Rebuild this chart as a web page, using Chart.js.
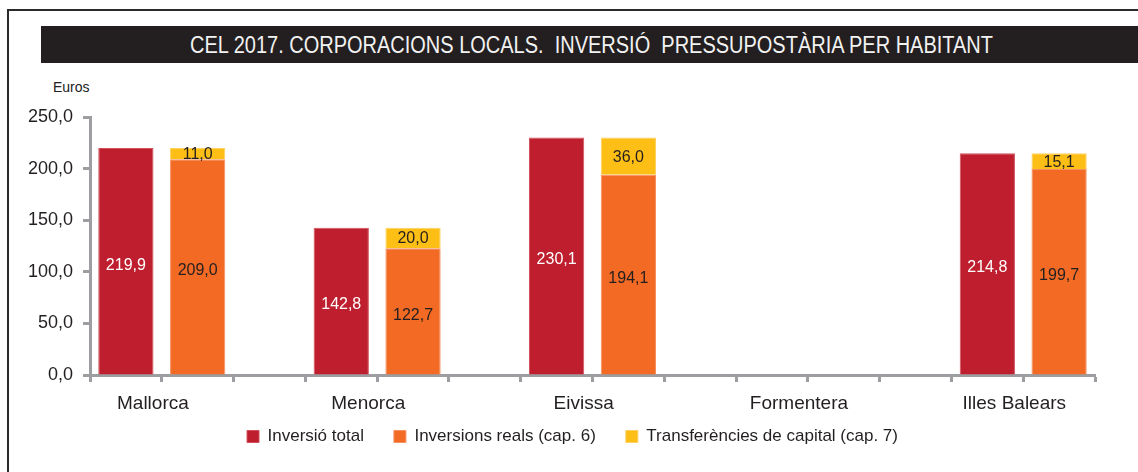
<!DOCTYPE html>
<html>
<head>
<meta charset="utf-8">
<script src="https://cdn.jsdelivr.net/npm/chart.js@4.4.1/dist/chart.umd.min.js"></script>
<style>
  html, body { margin: 0; padding: 0; background: #fff; overflow: hidden; }
  body { width: 1138px; height: 472px; position: relative; font-family: "Liberation Sans", Arial, sans-serif; }
  #frame { position: absolute; left: 7px; top: 9px; width: 1160px; height: 490px; border: 2px solid #2b2b2b; box-sizing: border-box; }
  #title { position: absolute; left: 41px; top: 26px; width: 1110px; height: 37px; background: #231f20; color: #f2f2f2;
           font-size: 23px; line-height: 37px; white-space: pre; }
  #title span { position: absolute; left: 149px; top: 1px; transform-origin: 0 50%; }
  #unit { position: absolute; left: 53px; top: 79px; font-size: 14px; color: #222; }
  #wrap { position: absolute; left: 0; top: 0; width: 1138px; height: 472px; }
</style>
</head>
<body>
<div id="frame"></div>
<div id="title"><span id="titleText">CEL 2017. CORPORACIONS LOCALS.  INVERSIÓ  PRESSUPOSTÀRIA PER HABITANT</span></div>
<div id="unit">Euros</div>
<div id="wrap"><canvas id="chart"></canvas></div>
<script>
const categories = ['Mallorca', 'Menorca', 'Eivissa', 'Formentera', 'Illes Balears'];
const totalInv = [219.9, 142.8, 230.1, null, 214.8];
const realInv = [209.0, 122.7, 194.1, null, 199.7];
const capTransf = [11.0, 20.0, 36.0, null, 15.1];
const seriesNames = ['Inversió total', 'Inversions reals (cap. 6)', 'Transferències de capital (cap. 7)'];
const yTicks = [0, 50, 100, 150, 200, 250];

const FONT = '"Liberation Sans", Arial, sans-serif';
const fmt = v => v.toFixed(1).replace('.', ',');

// squeeze the title to the narrow look of the original
const tt = document.getElementById('titleText');
tt.style.transform = 'scaleX(' + (803 / tt.getBoundingClientRect().width) + ')';

// each island takes 3 slots: total, cap6+cap7, gap
const slotLabels = [];
const slotTotal = [], slotReal = [], slotTransf = [];
categories.forEach((c, i) => {
  slotLabels.push(c, '');
  slotTotal.push(totalInv[i], null);
  slotReal.push(null, realInv[i]);
  slotTransf.push(null, capTransf[i]);
  if (i < categories.length - 1) {
    slotLabels.push('');
    slotTotal.push(null); slotReal.push(null); slotTransf.push(null);
  }
});

const barLabels = {
  id: 'barLabels',
  afterDatasetsDraw(chart) {
    const ctx = chart.ctx;
    ctx.save();
    ctx.font = '16px ' + FONT;
    ctx.textAlign = 'center';
    ctx.textBaseline = 'middle';
    chart.data.datasets.forEach((ds, di) => {
      const meta = chart.getDatasetMeta(di);
      meta.data.forEach((el, j) => {
        const v = ds.data[j];
        if (v == null) return;
        ctx.fillStyle = di === 0 ? '#ffffff' : '#231f20';
        const dy = di === 2 ? 1 : 4;
        ctx.fillText(fmt(v), el.x, (el.y + el.base) / 2 + dy);
      });
    });
    ctx.restore();
  }
};

// nudge the legend so it sits where the original has it
const legendShift = {
  id: 'legendShift',
  afterLayout(chart) {
    const lg = chart.legend;
    if (!lg) return;
    lg.left += 13; lg.right += 13;
    lg.top -= 17; lg.bottom -= 17;
  }
};

new Chart(document.getElementById('chart'), {
  type: 'bar',
  data: {
    labels: slotLabels,
    datasets: [
      { label: seriesNames[0], data: slotTotal, backgroundColor: '#be1e2d', borderColor: '#d0505a', borderWidth: 1 },
      { label: seriesNames[1], data: slotReal, backgroundColor: '#f26a24', borderColor: '#f59060', borderWidth: 1 },
      { label: seriesNames[2], data: slotTransf, backgroundColor: '#fdbe16', borderColor: '#fdd060', borderWidth: 1 }
    ]
  },
  options: {
    responsive: true,
    maintainAspectRatio: false,
    animation: false,
    categoryPercentage: 1,
    barPercentage: 0.77,
    layout: { padding: { left: 24, right: 43, top: 117, bottom: 0 } },
    plugins: {
      tooltip: { enabled: false },
      legend: {
        position: 'bottom',
        labels: {
          boxWidth: 12, boxHeight: 12, padding: 30,
          color: '#231f20',
          font: { family: FONT, size: 17 }
        }
      }
    },
    scales: {
      x: {
        stacked: true,
        border: { display: true, color: '#9d9ea1', width: 3 },
        grid: { offset: true, drawOnChartArea: false, drawTicks: true, tickLength: 7, tickColor: '#9d9ea1', tickWidth: 3 },
        ticks: {
          autoSkip: false, maxRotation: 0, minRotation: 0, labelOffset: 27, padding: 10,
          color: '#231f20', font: { family: FONT, size: 19 }
        },
        afterFit(s) { s.height = 40; }
      },
      y: {
        stacked: true,
        min: 0, max: 250,
        afterBuildTicks(s) { s.ticks = yTicks.map(v => ({ value: v })); },
        border: { display: true, color: '#9d9ea1', width: 3 },
        grid: { drawOnChartArea: false, drawTicks: true, tickLength: 7, tickColor: '#9d9ea1', tickWidth: 3 },
        ticks: { padding: 10, color: '#231f20', font: { family: FONT, size: 18 }, callback: v => fmt(v) },
        afterFit(s) { s.width = 66; }
      }
    }
  },
  plugins: [barLabels, legendShift]
});
</script>
</body>
</html>
